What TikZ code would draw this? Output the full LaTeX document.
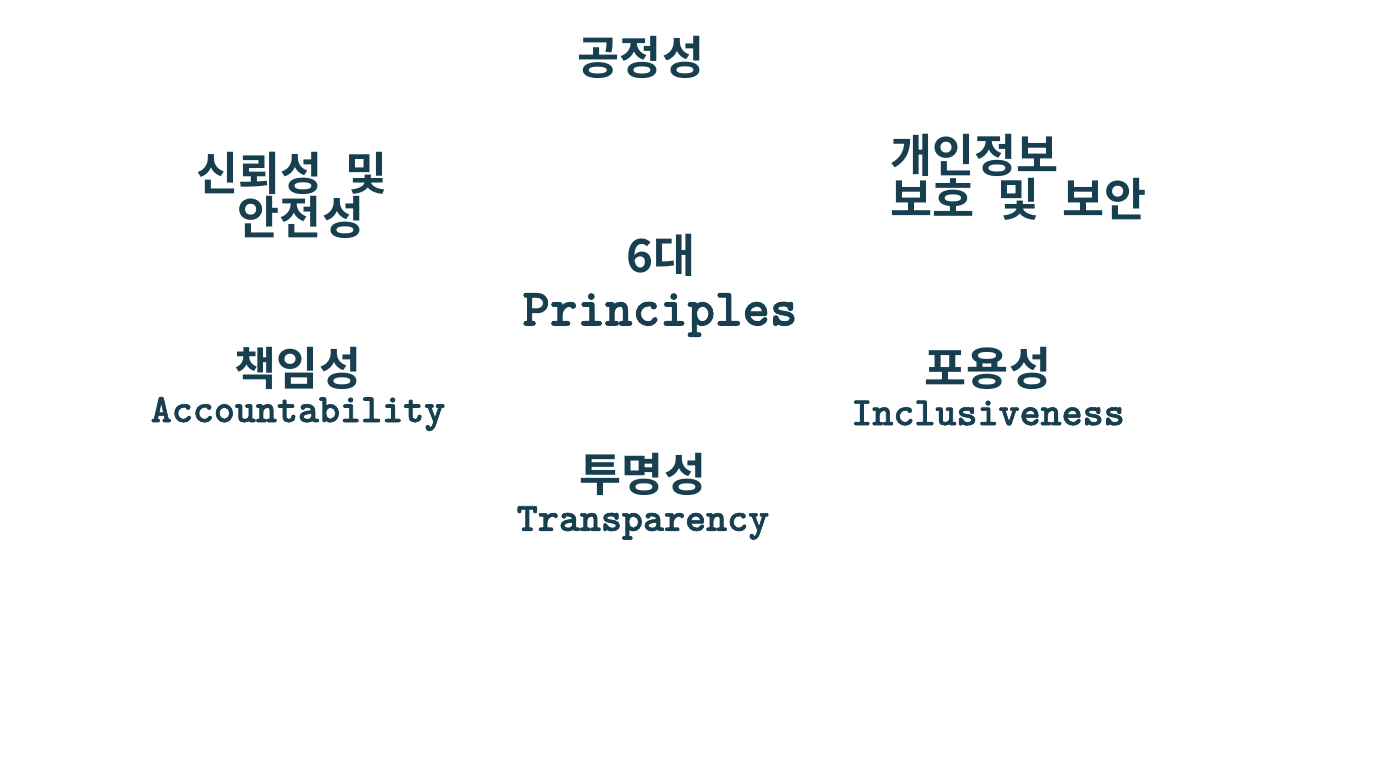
\documentclass[tikz,border=0pt]{standalone}
\usepackage{fontspec}
\newfontfamily\kr{Noto Sans CJK KR}[BoldFont={Noto Sans CJK KR Bold}, WordSpace=2.2]
\newfontfamily\mono{lmmonolt10-bold}[Extension=.otf, FakeBold=1.6]
\definecolor{ink}{HTML}{173F4F}
\tikzset{
	kor/.style={font=\kr\bfseries\fontsize{26}{25}\selectfont, text=ink, inner sep=0pt},
	eng/.style={font=\mono\fontsize{22.8}{24}\selectfont, text=ink, inner sep=0pt},
	big/.style={font=\mono\fontsize{29.8}{30}\selectfont, text=ink, inner sep=0pt}
}

\begin{document}
\begin{tikzpicture}

	\useasboundingbox (0,0) rectangle (27.84,15.36);

	\node[kor] (fair) at (12.82,14.22) {공정성};
	\node[kor, align=center] (trust) at (6.02,11.46) {신뢰성 및\hspace*{.4em}\\안전성};
	\node[kor, align=left, anchor=west] (privacy) at (17.8,11.81) {개인정보\\보호 및 보안};

	\node[kor] (six) at (13.22,10.26) {6대};
	\node[big] (princ) at (13.2,9.06) {Principles};

	\node[kor] (resp) at (5.96,8.0) {책임성};
	\node[eng] (accnt) at (5.96,7.08) {Accountability};
	\node[kor] (incl) at (19.76,8.0) {포용성};
	\node[eng] (inclen) at (19.76,7.1) {Inclusiveness};
	\node[kor] (trans) at (12.86,5.88) {투명성};
	\node[eng] (transen) at (12.86,4.9) {Transparency};

\end{tikzpicture}
\end{document}
